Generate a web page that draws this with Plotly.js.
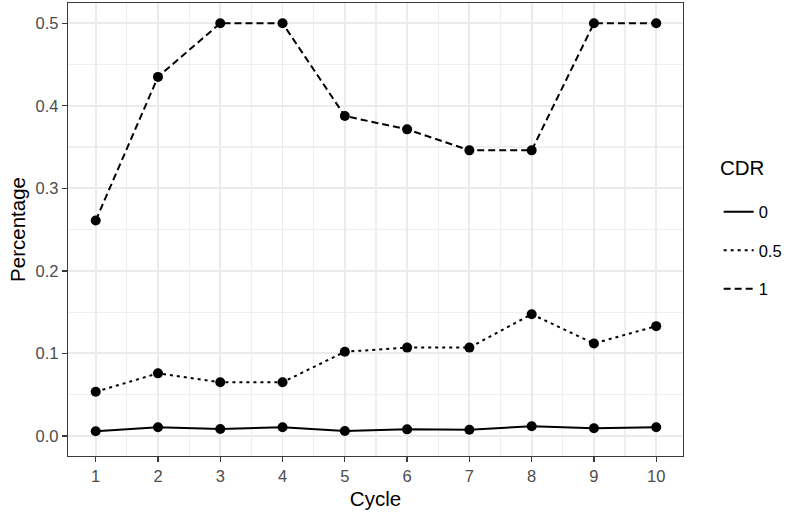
<!DOCTYPE html>
<html>
<head>
<meta charset="utf-8">
<script src="https://cdn.plot.ly/plotly-3.0.1.min.js"></script>
<style>html,body{margin:0;padding:0;background:#fff;}#chart{width:800px;height:519px;}</style>
</head>
<body>
<div id="chart"></div>
<script>
const cycles = [1, 2, 3, 4, 5, 6, 7, 8, 9, 10];
const cdrLevels = ["0", "0.5", "1"];
const cdr0 = [0.0057, 0.0106, 0.0085, 0.0105, 0.006, 0.008, 0.0075, 0.0118, 0.0094, 0.0106];
const cdr05 = [0.0535, 0.0758, 0.065, 0.065, 0.102, 0.107, 0.107, 0.1475, 0.112, 0.133];
const cdr1 = [0.261, 0.435, 0.5, 0.5, 0.3876, 0.3714, 0.346, 0.346, 0.5, 0.5];
const yTicks = [0.0, 0.1, 0.2, 0.3, 0.4, 0.5];
const yTickLabels = ["0.0", "0.1", "0.2", "0.3", "0.4", "0.5"];

const series = [cdr0, cdr05, cdr1];
const dashes = ["solid", "3px,4px", "7px,4px"];

const traces = [];
series.forEach((vals, i) => {
  traces.push({
    x: cycles, y: vals, type: "scatter", mode: "lines+markers",
    line: {color: "#000", width: 2, dash: dashes[i]},
    marker: {color: "#000", size: 10},
    showlegend: false, hoverinfo: "skip"
  });
});
series.forEach((vals, i) => {
  traces.push({
    x: [null], y: [null], type: "scatter", mode: "lines",
    name: cdrLevels[i], legendgroup: "g" + i,
    line: {color: "#000", width: 2, dash: dashes[i]},
    showlegend: true
  });
});

const layout = {
  width: 800, height: 519,
  margin: {l: 68, r: 117, t: 3, b: 63},
  paper_bgcolor: "#fff", plot_bgcolor: "#fff",
  font: {family: "Liberation Sans, Arial, sans-serif", color: "#000"},
  xaxis: {
    range: [0.555, 10.43], tickvals: cycles, ticktext: cycles.map(String),
    showgrid: true, gridcolor: "#EBEBEB", gridwidth: 1.8,
    minor: {dtick: 0.5, tick0: 0.5, showgrid: true, gridcolor: "#EFEFEF", gridwidth: 1.2},
    zeroline: false, showline: true, mirror: true, linecolor: "#3a3a3a", linewidth: 1.3,
    ticks: "outside", ticklen: 5, tickcolor: "#3a3a3a", tickwidth: 1.3,
    tickfont: {size: 16.5, color: "#4D4D4D"},
    title: {text: "Cycle", font: {size: 20.5, color: "#000"}, standoff: 7}
  },
  yaxis: {
    range: [-0.0243, 0.5245], tickvals: yTicks, ticktext: yTickLabels,
    showgrid: true, gridcolor: "#EBEBEB", gridwidth: 1.8,
    minor: {dtick: 0.05, tick0: 0.05, showgrid: true, gridcolor: "#EFEFEF", gridwidth: 1.2},
    zeroline: false, showline: true, mirror: true, linecolor: "#3a3a3a", linewidth: 1.3,
    ticks: "outside", ticklen: 5, tickcolor: "#3a3a3a", tickwidth: 1.3,
    tickfont: {size: 16.5, color: "#4D4D4D"},
    title: {text: "Percentage", font: {size: 20.5, color: "#000"}, standoff: 4}
  },
  legend: {
    x: 1.058, xanchor: "left", y: 0.577, yanchor: "top",
    font: {size: 16.5, color: "#000"},
    traceorder: "grouped", tracegroupgap: 14, itemwidth: 30,
    bgcolor: "rgba(0,0,0,0)"
  },
  annotations: [{
    text: "CDR", xref: "paper", yref: "paper", x: 1.057, y: 0.636,
    xanchor: "left", yanchor: "middle", showarrow: false,
    font: {size: 20.5, color: "#000"}
  }]
};

Plotly.newPlot("chart", traces, layout, {staticPlot: true, displayModeBar: false});
</script>
</body>
</html>
